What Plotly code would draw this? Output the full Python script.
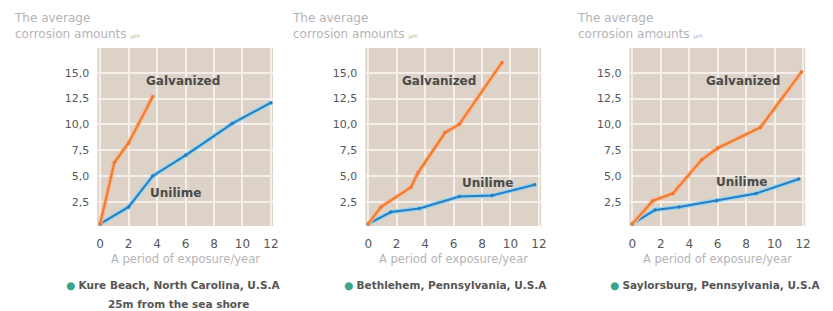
import plotly.graph_objects as go

# ---------------- data ----------------
x_ticks = [0, 2, 4, 6, 8, 10, 12]
y_ticks = [2.5, 5, 7.5, 10, 12.5, 15]
y_tick_labels = ["2,5", "5,0", "7,5", "10,0", "12,5", "15,0"]

locations = ["Kure Beach, North Carolina, U.S.A",
             "Bethlehem, Pennsylvania, U.S.A",
             "Saylorsburg, Pennsylvania, U.S.A"]
location_notes = ["25m from the sea shore", "", ""]

kure_galv_x = [0, 1.0, 2.0, 3.7]
kure_galv_y = [0.35, 6.3, 8.2, 12.7]
kure_uni_x = [0, 2.0, 3.7, 6.0, 9.3, 12.0]
kure_uni_y = [0.35, 2.0, 5.0, 7.0, 10.1, 12.1]

beth_galv_x = [0, 0.9, 3.0, 3.5, 5.4, 6.4, 9.4]
beth_galv_y = [0.35, 2.0, 3.9, 5.3, 9.2, 10.0, 16.0]
beth_uni_x = [0, 1.6, 3.6, 6.4, 8.7, 11.7]
beth_uni_y = [0.35, 1.5, 1.85, 3.0, 3.1, 4.15]

say_galv_x = [0, 1.45, 2.85, 4.9, 6.0, 9.0, 11.9]
say_galv_y = [0.35, 2.6, 3.3, 6.6, 7.7, 9.7, 15.1]
say_uni_x = [0, 1.6, 3.3, 5.9, 8.7, 11.7]
say_uni_y = [0.35, 1.7, 2.0, 2.6, 3.3, 4.7]

panels = [
    (kure_galv_x, kure_galv_y, kure_uni_x, kure_uni_y),
    (beth_galv_x, beth_galv_y, beth_uni_x, beth_uni_y),
    (say_galv_x, say_galv_y, say_uni_x, say_uni_y),
]

# ---------------- style ----------------
W, H = 833, 311
FONT = "DejaVu Sans, Liberation Sans, Arial, sans-serif"
BG = "#dcd2c7"
GRID = "#f4efe9"
ORANGE = "#ef7832"
ORANGE_GLOW = "#f8b88c"
BLUE = "#2a7cbd"
BLUE_GLOW = "#94d6f2"
TICK_COLOR = "#575757"
LIGHT_TEXT = "#b4b4b4"

x_left_px = [97, 367, 633]
plot_w = 177
top_px, bot_px = 48, 226
ydom = [(H - bot_px) / H, (H - top_px) / H]

galv_label_pos = [(5.8, 14.2), (5.0, 14.2), (7.75, 14.2)]
uni_label_pos = [(5.3, 3.35), (8.4, 4.3), (7.7, 4.4)]
title_x_px = [11, 291, 578]
caption_center_px = [173, 448, 720]
note_center_px = [179, 448, 720]

fig = go.Figure()
annotations = []

for i, (gx, gy, ux, uy) in enumerate(panels):
    n = "" if i == 0 else str(i + 1)
    xa, ya = "x" + n, "y" + n
    for xs, ys, core, glow in [(ux, uy, BLUE, BLUE_GLOW), (gx, gy, ORANGE, ORANGE_GLOW)]:
        fig.add_trace(go.Scatter(x=xs, y=ys, mode="lines",
                                 line=dict(color=glow, width=4.5),
                                 xaxis=xa, yaxis=ya, showlegend=False, hoverinfo="skip"))
        fig.add_trace(go.Scatter(x=xs, y=ys, mode="lines+markers",
                                 line=dict(color=core, width=2),
                                 marker=dict(color=core, size=3.5),
                                 xaxis=xa, yaxis=ya, showlegend=False))
    x0 = x_left_px[i] / W
    x1 = (x_left_px[i] + plot_w) / W
    fig.layout["xaxis" + n] = dict(
        domain=[x0, x1], range=[-0.2, 12.15], anchor=ya,
        tickvals=x_ticks, ticktext=[str(v) for v in x_ticks],
        showgrid=True, gridcolor=GRID, gridwidth=1.5, zeroline=False,
        showline=False, ticks="", ticklabelstandoff=9,
        tickfont=dict(family=FONT, size=12, color=TICK_COLOR),
    )
    fig.layout["yaxis" + n] = dict(
        domain=ydom, range=[0.15, 17.4], anchor=xa,
        tickvals=y_ticks, ticktext=y_tick_labels,
        showgrid=True, gridcolor=GRID, gridwidth=1.5, zeroline=False,
        showline=False, ticks="", ticklabelstandoff=7,
        tickfont=dict(family=FONT, size=11, color=TICK_COLOR),
    )
    # series labels
    annotations.append(dict(x=galv_label_pos[i][0], y=galv_label_pos[i][1], xref=xa, yref=ya,
                            text="<b>Galvanized</b>", showarrow=False,
                            font=dict(family=FONT, size=12, color="#4a4a4a")))
    annotations.append(dict(x=uni_label_pos[i][0], y=uni_label_pos[i][1], xref=xa, yref=ya,
                            text="<b>Unilime</b>", showarrow=False,
                            font=dict(family=FONT, size=12, color="#4a4a4a")))
    # x axis title
    annotations.append(dict(x=0.5, y=(H - 259) / H, xref=xa + " domain", yref="paper",
                            xanchor="center", yanchor="middle",
                            text="A period of exposure/year", showarrow=False,
                            font=dict(family=FONT, size=11.5, color=LIGHT_TEXT)))
    # y axis title
    annotations.append(dict(x=title_x_px[i] / W, y=(H - 9) / H, xref="paper", yref="paper",
                            xanchor="left", yanchor="top", align="left",
                            text="The average<br>corrosion amounts <span style='font-size:6px'>μm</span>",
                            showarrow=False,
                            font=dict(family=FONT, size=12, color=LIGHT_TEXT)))
    # caption
    annotations.append(dict(x=caption_center_px[i] / W, y=(H - 285) / H, xref="paper", yref="paper",
                            xanchor="center", yanchor="middle",
                            text="<span style='color:#3aa58a'>●</span> <b>" + locations[i] + "</b>",
                            showarrow=False,
                            font=dict(family=FONT, size=10.5, color="#555555")))
    if location_notes[i]:
        annotations.append(dict(x=note_center_px[i] / W, y=(H - 304) / H, xref="paper", yref="paper",
                                xanchor="center", yanchor="middle",
                                text="<b>" + location_notes[i] + "</b>",
                                showarrow=False,
                                font=dict(family=FONT, size=10.5, color="#555555")))

fig.update_layout(
    width=W, height=H,
    margin=dict(l=0, r=0, t=0, b=0),
    paper_bgcolor="white",
    plot_bgcolor=BG,
    annotations=annotations,
    showlegend=False,
)

fig.write_html("out.html", config={"displayModeBar": False},
               post_script="document.body.style.margin='0';")
